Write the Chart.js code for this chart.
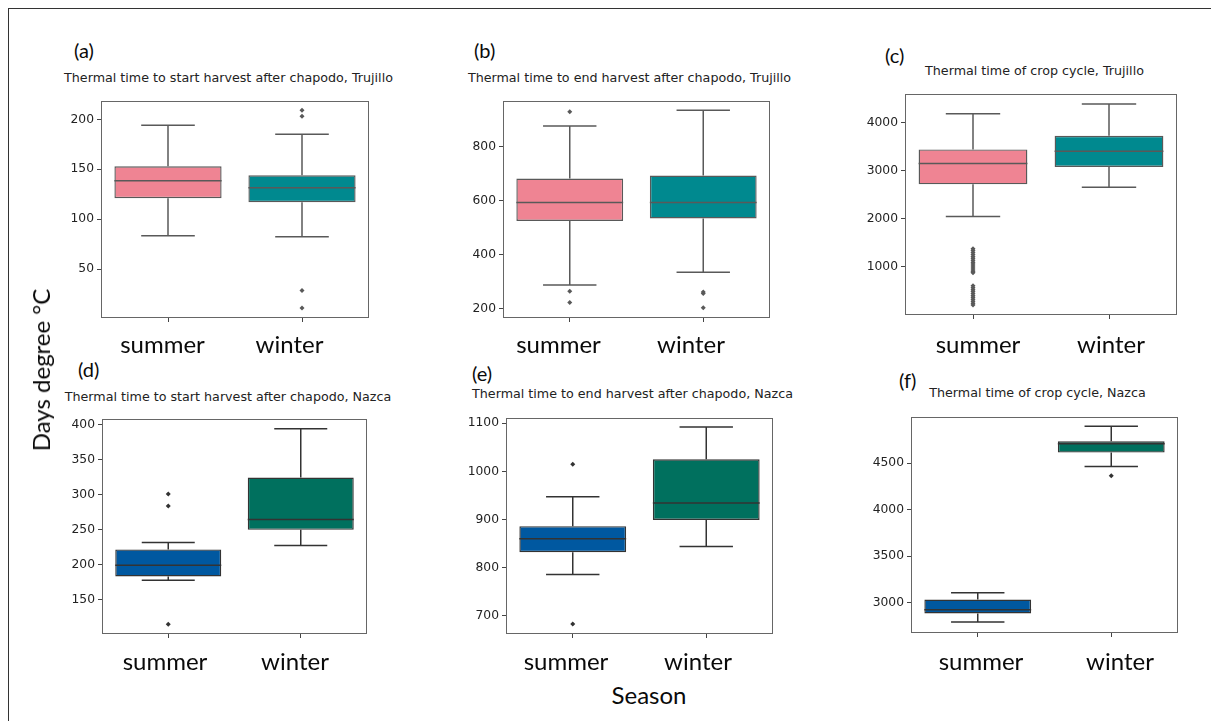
<!DOCTYPE html>
<html><head><meta charset="utf-8">
<script src="https://cdn.jsdelivr.net/npm/chart.js@4/dist/chart.umd.min.js"></script>
<style>
body{margin:0;background:#fff;width:1211px;height:721px;overflow:hidden;position:relative;}
#frame{position:absolute;left:8px;top:8px;width:1300px;height:800px;border-left:1.5px solid #333;border-top:1.5px solid #333;}
canvas{position:absolute;}
.t{position:absolute;white-space:nowrap;line-height:1;}
.title{font-family:'DejaVu Sans';font-size:12.7px;color:#222;transform:translate(-50%,-50%);}
.big{font-family:Lato;font-size:24px;color:#0a0a0a;transform:translate(-50%,-50%);}
.letter{font-family:Lato;font-size:20px;color:#0a0a0a;transform:translate(0,-50%);}
</style></head><body>
<div id="frame"></div>
<script>
const categories = ['summer', 'winter'];
// box stats: [lower whisker, Q1, median, Q3, upper whisker]
const aSummer = [83.5, 121, 138.5, 153, 194];
const aWinter = [82.5, 117, 131.5, 144, 185];
const aSummerOutliers = [];
const aWinterOutliers = [209, 203, 28.6, 11];
const aTicks = [50, 100, 150, 200];

const bSummer = [288, 526, 594, 683, 878];
const bWinter = [336, 535, 594, 694, 936];
const bSummerOutliers = [931, 265, 223];
const bWinterOutliers = [262, 257, 204];
const bTicks = [200, 400, 600, 800];

const cSummer = [2048, 2714, 3149, 3440, 4178];
const cWinter = [2653, 3077, 3402, 3722, 4380];
const cSummerOutliers = [1380, 1340, 1300, 1260, 1220, 1180, 1140, 1100, 1060, 1020, 980, 940, 900, 880,
  610, 570, 530, 490, 450, 410, 370, 330, 290, 250, 210];
const cWinterOutliers = [];
const cTicks = [1000, 2000, 3000, 4000];

const dSummer = [178, 183.3, 199.5, 222, 232];
const dWinter = [227.6, 250, 264.7, 324.7, 394.7];
const dSummerOutliers = [301.4, 284, 115];
const dWinterOutliers = [];
const dTicks = [150, 200, 250, 300, 350, 400];

const eSummer = [785.5, 832, 860, 886, 947];
const eWinter = [844, 899, 934, 1025, 1092];
const eSummerOutliers = [1014.5, 683];
const eWinterOutliers = [];
const eTicks = [700, 800, 900, 1000, 1100];

const fSummer = [2790, 2882, 2922, 3032, 3104];
const fWinter = [4464, 4614, 4708, 4736, 4897];
const fSummerOutliers = [];
const fWinterOutliers = [4365];
const fTicks = [3000, 3500, 4000, 4500];

const yRanges = {a: [1, 218], b: [166, 969], c: [4, 4581], d: [101, 408], e: [662, 1110], f: [2672, 4993]};

const panels = [
  {id:'a', rect:[101,101,369,318], s:aSummer, w:aWinter, so:aSummerOutliers, wo:aWinterOutliers, ticks:aTicks, colors:['#ef8493','#00898f'], line:'#595959'},
  {id:'b', rect:[503,101,770,318], s:bSummer, w:bWinter, so:bSummerOutliers, wo:bWinterOutliers, ticks:bTicks, colors:['#ef8493','#00898f'], line:'#595959'},
  {id:'c', rect:[905,94,1177,315], s:cSummer, w:cWinter, so:cSummerOutliers, wo:cWinterOutliers, ticks:cTicks, colors:['#ef8493','#00898f'], line:'#595959'},
  {id:'d', rect:[102,419,367,634], s:dSummer, w:dWinter, so:dSummerOutliers, wo:dWinterOutliers, ticks:dTicks, colors:['#0058a0','#00705e'], line:'#333333'},
  {id:'e', rect:[506,418,773,634], s:eSummer, w:eWinter, so:eSummerOutliers, wo:eWinterOutliers, ticks:eTicks, colors:['#0058a0','#00705e'], line:'#333333'},
  {id:'f', rect:[911,417,1178,633], s:fSummer, w:fWinter, so:fSummerOutliers, wo:fWinterOutliers, ticks:fTicks, colors:['#0058a0','#00705e'], line:'#333333'}
];

const boxPlugin = {
  id: 'boxstats',
  afterDatasetsDraw(chart, args, opts) {
    const ctx = chart.ctx, xs = chart.scales.x, ys = chart.scales.y;
    const catW = xs.width / categories.length;
    const half = catW * 0.8 / 2;
    ctx.save();
    ctx.strokeStyle = opts.line;
    ctx.lineWidth = 1.5;
    opts.stats.forEach((st, i) => {
      const x = xs.getPixelForValue(i);
      const p = st.map(v => ys.getPixelForValue(v));
      ctx.beginPath();
      ctx.moveTo(x, p[3]); ctx.lineTo(x, p[4]);
      ctx.moveTo(x, p[1]); ctx.lineTo(x, p[0]);
      ctx.moveTo(x - half / 2, p[4]); ctx.lineTo(x + half / 2, p[4]);
      ctx.moveTo(x - half / 2, p[0]); ctx.lineTo(x + half / 2, p[0]);
      ctx.moveTo(x - half, p[2]); ctx.lineTo(x + half, p[2]);
      ctx.stroke();
    });
    ctx.restore();
  },
  afterDraw(chart) {
    const a = chart.chartArea, ctx = chart.ctx;
    ctx.save();
    ctx.strokeStyle = '#666';
    ctx.lineWidth = 1;
    ctx.strokeRect(Math.round(a.left) + 0.5, Math.round(a.top) + 0.5, Math.round(a.right - a.left) - 1, Math.round(a.bottom - a.top) - 1);
    ctx.restore();
  }
};

function makePanel(p) {
  const padL = 55, padT = 10, padR = 10, padB = 30;
  const cv = document.createElement('canvas');
  const W = p.rect[2] - p.rect[0] + padL + padR, H = p.rect[3] - p.rect[1] + padT + padB;
  cv.width = W; cv.height = H;
  cv.style.left = (p.rect[0] - padL) + 'px'; cv.style.top = (p.rect[1] - padT) + 'px';
  cv.style.width = W + 'px'; cv.style.height = H + 'px';
  document.body.appendChild(cv);
  const outliers = p.so.map(v => ({x: categories[0], y: v})).concat(p.wo.map(v => ({x: categories[1], y: v})));
  const yr = yRanges[p.id];
  new Chart(cv, {
    type: 'bar',
    data: {
      labels: categories,
      datasets: [
        {type: 'bar', data: [[p.s[1], p.s[3]], [p.w[1], p.w[3]]], backgroundColor: p.colors, borderColor: p.line,
         borderWidth: 1.4, borderSkipped: false, barPercentage: 0.8, categoryPercentage: 1, order: 2},
        {type: 'scatter', data: outliers, pointStyle: 'rectRot', pointRadius: 2.5, backgroundColor: p.line,
         borderColor: p.line, borderWidth: 0, order: 1}
      ]
    },
    options: {
      responsive: false, animation: false, devicePixelRatio: 1,
      layout: {padding: {left: 0, top: padT, right: padR, bottom: 0}},
      plugins: {legend: {display: false}, tooltip: {enabled: false}, title: {display: false},
        boxstats: {stats: [p.s, p.w], line: p.line}},
      scales: {
        x: {type: 'category', offset: true,
            grid: {display: true, drawOnChartArea: false, tickLength: 4, tickColor: '#444', offset: false},
            border: {display: false}, ticks: {display: false},
            afterFit(s) { s.height = padB; }},
        y: {type: 'linear', min: yr[0], max: yr[1],
            grid: {drawOnChartArea: false, tickLength: 4, tickColor: '#444'},
            border: {display: false},
            ticks: {font: {family: 'DejaVu Sans', size: 12.3}, color: '#222', padding: 3,
                    callback: v => String(v)},
            afterBuildTicks(s) { s.ticks = p.ticks.map(v => ({value: v})); },
            afterFit(s) { s.width = padL; }}
      }
    },
    plugins: [boxPlugin]
  });
}
panels.forEach(makePanel);

function addText(cls, txt, x, y, extra) {
  const d = document.createElement('div');
  d.className = 't ' + cls;
  d.textContent = txt;
  d.style.left = x + 'px'; d.style.top = y + 'px';
  if (extra) Object.assign(d.style, extra);
  document.body.appendChild(d);
}
const letters = [['(a)',74,50],['(b)',474,50],['(c)',885,55],['(d)',78,369],['(e)',472,373],['(f)',899,380]];
letters.forEach(l => addText('letter', l[0], l[1], l[2]));
const titles = [
  ['Thermal time to start harvest after chapodo, Trujillo', 228.5, 78],
  ['Thermal time to end harvest after chapodo, Trujillo', 629.5, 78],
  ['Thermal time of crop cycle, Trujillo', 1034.5, 71],
  ['Thermal time to start harvest after chapodo, Nazca', 228, 397],
  ['Thermal time to end harvest after chapodo, Nazca', 632.5, 394],
  ['Thermal time of crop cycle, Nazca', 1037.5, 393]
];
titles.forEach(t => addText('title', t[0], t[1], t[2]));
const bigLabels = [[162.5,344],[289.5,344],[558.5,344],[691,344],[978,344],[1111,344],
                   [165,661],[295,661],[566,661],[698,661],[981,661],[1120,661]];
bigLabels.forEach((b, i) => addText('big', categories[i % 2], b[0], b[1]));
addText('big', 'Season', 649, 695);
addText('big', 'Days degree \u00B0C', 41, 370, {transform: 'translate(-50%,-50%) rotate(-90deg)'});
</script>
</body></html>
